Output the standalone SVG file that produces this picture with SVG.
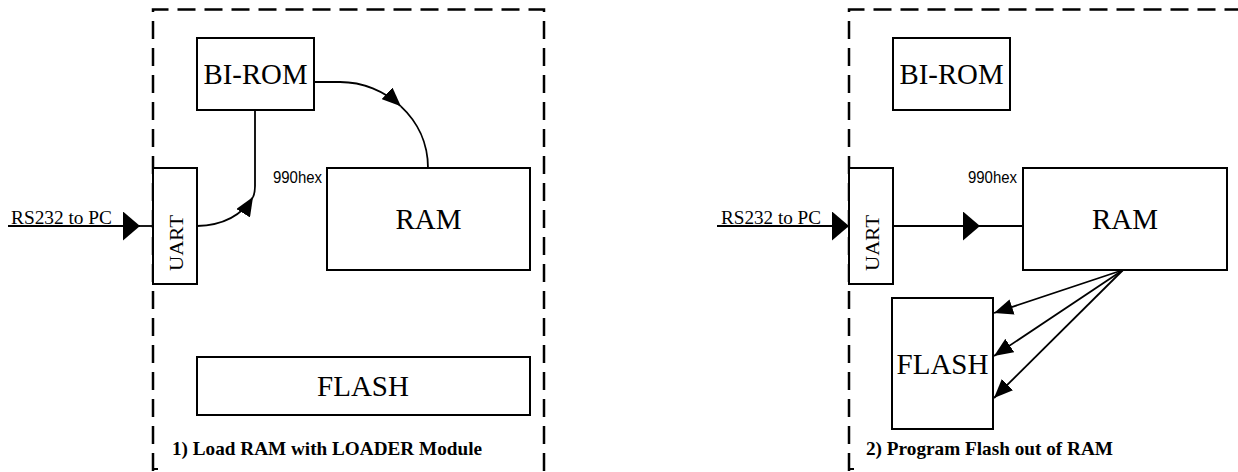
<svg xmlns="http://www.w3.org/2000/svg" width="1238" height="472" viewBox="0 0 1238 472">
  <style>
    .frame { fill: none; stroke: #000; stroke-width: 2.5; stroke-dasharray: 18 9; }
    .box { fill: #fff; stroke: #000; stroke-width: 2; }
    .wire { fill: none; stroke: #000; stroke-width: 1.8; }
    .big { font-family: "Liberation Serif", "Times New Roman", serif; font-size: 29px; fill: #000; text-anchor: middle; }
    .mid { font-family: "Liberation Serif", "Times New Roman", serif; font-size: 19px; fill: #000; }
    .lbl { font-family: "Liberation Serif", "Times New Roman", serif; font-size: 19px; font-weight: bold; fill: #000; }
    .hex { font-family: "Liberation Sans", Arial, sans-serif; font-size: 17px; fill: #000; }
  </style>
  <defs>
    <marker id="tri" markerUnits="userSpaceOnUse" markerWidth="20" markerHeight="16" refX="19" refY="8" orient="auto">
      <path d="M0,0 L19,8 L0,16 z" fill="#000"/>
    </marker>
    <marker id="blunt" markerUnits="userSpaceOnUse" markerWidth="17" markerHeight="29" refX="17" refY="14.5" orient="auto">
      <path d="M0,0 L17,14.5 L0,29 z" fill="#000"/>
    </marker>
  </defs>
  <rect width="1238" height="472" fill="#fff"/>

  <!-- Panel 1 frame -->
  <g id="frame1">
    <path class="frame" d="M153,471 L153,9.5 L544,9.5 L544,471"/>
    <path d="M153,469 L158,469" stroke="#000" stroke-width="2" fill="none"/>
    <text class="lbl" x="172" y="455" textLength="310" lengthAdjust="spacingAndGlyphs">1) Load RAM with LOADER Module</text>
  </g>
  <!-- Panel 2 frame -->
  <g id="frame2">
    <path class="frame" d="M849,471 L849,9.5 L1242,9.5"/>
    <path d="M849,469 L854,469" stroke="#000" stroke-width="2" fill="none"/>
    <text class="lbl" x="866" y="455" textLength="247" lengthAdjust="spacingAndGlyphs">2) Program Flash out of RAM</text>
  </g>

  <!-- Panel 1 nodes -->
  <g id="birom1">
    <rect class="box" x="197" y="38" width="117" height="72"/>
    <text class="big" x="255.5" y="83.5" textLength="104" lengthAdjust="spacingAndGlyphs">BI-ROM</text>
  </g>
  <g id="uart1">
    <rect class="box" x="153" y="168" width="44" height="116"/>
    <text class="mid" x="0" y="0" text-anchor="middle" font-size="21" textLength="56" lengthAdjust="spacingAndGlyphs" transform="translate(183,243) rotate(-90)">UART</text>
  </g>
  <g id="ram1">
    <rect class="box" x="327" y="168" width="203" height="102"/>
    <text class="big" x="428.5" y="228.5">RAM</text>
    <text class="hex" x="273" y="183" textLength="49" lengthAdjust="spacingAndGlyphs">990hex</text>
  </g>
  <g id="flash1">
    <rect class="box" x="197" y="357" width="333" height="58"/>
    <text class="big" x="363" y="395.5">FLASH</text>
  </g>
  <g id="rs232-1">
    <text class="mid" x="11" y="224" textLength="101" lengthAdjust="spacingAndGlyphs">RS232 to PC</text>
  </g>

  <!-- Panel 2 nodes -->
  <g id="birom2">
    <rect class="box" x="893" y="38" width="117" height="72"/>
    <text class="big" x="951.5" y="83.5" textLength="104" lengthAdjust="spacingAndGlyphs">BI-ROM</text>
  </g>
  <g id="uart2">
    <rect class="box" x="849" y="168" width="44" height="116"/>
    <text class="mid" x="0" y="0" text-anchor="middle" font-size="21" textLength="56" lengthAdjust="spacingAndGlyphs" transform="translate(879,243) rotate(-90)">UART</text>
  </g>
  <g id="ram2">
    <rect class="box" x="1023" y="168" width="204" height="102"/>
    <text class="big" x="1125" y="228.5">RAM</text>
    <text class="hex" x="968" y="183" textLength="49" lengthAdjust="spacingAndGlyphs">990hex</text>
  </g>
  <g id="flash2">
    <rect class="box" x="892" y="298" width="101" height="131"/>
    <text class="big" x="942.5" y="373.5">FLASH</text>
  </g>
  <g id="rs232-2">
    <text class="mid" x="721" y="224" textLength="100" lengthAdjust="spacingAndGlyphs">RS232 to PC</text>
  </g>

  <!-- Connectors -->
  <g id="connectors">
    <!-- Panel 1 -->
    <line class="wire" x1="8" y1="226" x2="140" y2="226" marker-end="url(#blunt)"/>
    <line class="wire" x1="140" y1="226" x2="153" y2="226"/>
    <path class="wire" d="M197,226 Q236,225 253,197" marker-end="url(#tri)"/>
    <path class="wire" d="M253,197 Q255,193 255,186 L255,110"/>
    <path class="wire" d="M314,82 L340,82 C362.5,82 384.5,91 400.9,106.3" marker-end="url(#tri)"/>
    <path class="wire" d="M400.9,106.3 C417.3,121.5 428,143 428,168"/>
    <!-- Panel 2 -->
    <line class="wire" x1="717" y1="226" x2="849" y2="226" marker-end="url(#blunt)"/>
    <line class="wire" x1="893" y1="226" x2="980" y2="226" marker-end="url(#blunt)"/>
    <line class="wire" x1="980" y1="226" x2="1023" y2="226"/>
    <line class="wire" x1="1123" y1="270" x2="994" y2="313" marker-end="url(#tri)"/>
    <line class="wire" x1="1123" y1="270" x2="994" y2="356" marker-end="url(#tri)"/>
    <line class="wire" x1="1123" y1="270" x2="994" y2="398" marker-end="url(#tri)"/>
  </g>
</svg>
